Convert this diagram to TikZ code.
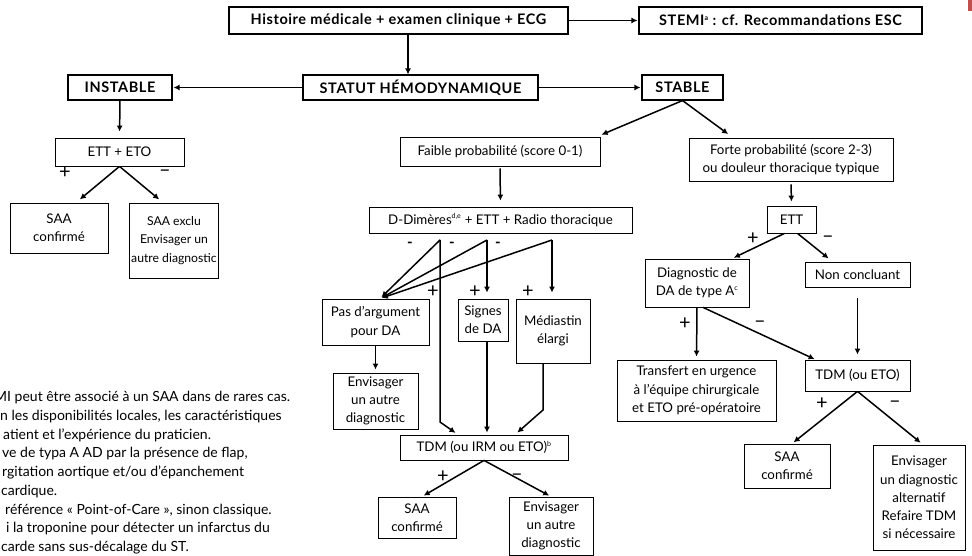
\documentclass[tikz,border=0pt]{standalone}
\usepackage{fontspec}
\setmainfont{Lato}
\newfontfamily\headfont{Lato}[LetterSpace=4]
\usetikzlibrary{arrows.meta}

\definecolor{tabred}{HTML}{C0504D}
\newcommand{\sups}[1]{\textsuperscript{\fontsize{7}{7}\selectfont #1}}

\begin{document}
\begin{tikzpicture}[x=1pt,y=-1pt,
  box/.style={draw,line width=0.8pt,align=center,inner sep=0pt,font=\fontsize{13.3}{18.3}\selectfont},
  head/.style={box,line width=1.1pt,font=\headfont\bfseries\fontsize{14.5}{16}\selectfont},
  arr/.style={-{Latex[length=6pt,width=6pt]},line width=1.5pt},
  sign/.style={inner sep=0pt,yshift=-3pt,font=\fontsize{20}{20}\selectfont},
  negmark/.style={inner sep=0pt,font=\bfseries\fontsize{15}{15}\selectfont}]
  \useasboundingbox (0,0) rectangle (972,556);
  \fill[tabred] (968,0) rectangle (972,11);

  % top row
  \node (hist) at (398.5,20.5) [head,minimum width=339pt,minimum height=27pt] {Histoire médicale + examen clinique + ECG};
  \node (stemi) at (780.5,20.5) [head,minimum width=283pt,minimum height=27pt] {STEMI\sups{a} : cf. Recommandations ESC};
  \node (statut) at (420.5,87.5) [head,minimum width=235pt,minimum height=25pt] {STATUT HÉMODYNAMIQUE};
  \node (instable) at (120,87.5) [head,minimum width=104pt,minimum height=25pt] {INSTABLE};
  \node (stable) at (682.5,87.5) [head,minimum width=81pt,minimum height=25pt] {STABLE};
  \coordinate (h1) at (408,34);
  \draw[arr,shorten >=1pt] (hist.east) -- (stemi.west);
  \draw[arr] (h1) -- (h1 |- statut.north);
  \draw[arr,shorten >=1pt] (statut.west) -- (instable.east);
  \draw[arr,shorten >=1pt] (statut.east) -- (stable.west);

  % unstable branch
  \node (ettEto) at (119.5,152) [box,minimum width=129pt,minimum height=28pt] {ETT + ETO};
  \node (saaL) at (59,228) [box,minimum width=98pt,minimum height=50pt] {SAA\\confirmé};
  \node (exclu) at (174,240.5) [box,minimum width=89pt,minimum height=75pt,font=\fontsize{12.2}{18.3}\selectfont] {SAA exclu\\Envisager un\\autre diagnostic};
  \draw[arr,shorten >=6pt] (instable.south) -- (ettEto.north);
  \draw[arr,shorten >=5pt] (ettEto.south) -- ([xshift=17pt]saaL.north);
  \draw[arr,shorten >=5pt] (ettEto.south) -- ([xshift=-11pt]exclu.north);
  \node (p1) at (65,170) [sign] {+};
  \node (m1) at (165,170) [sign] {–};

  % stable, low probability
  \node (faible) at (500,151.5) [box,minimum width=200pt,minimum height=29pt] {Faible probabilité (score 0-1)};
  \node (ddim) at (500.5,220) [box,minimum width=263pt,minimum height=26pt] {D-Dimères\sups{d,e} + ETT + Radio thoracique};
  \node (pas) at (375.5,322) [box,minimum width=107pt,minimum height=46pt] {Pas d’argument\\pour DA};
  \node (signes) at (483,320) [box,minimum width=50pt,minimum height=42pt] {Signes\\de DA};
  \node (medi) at (553,331) [box,minimum width=74pt,minimum height=64pt] {Médiastin\\élargi};
  \node (envA) at (375.5,401) [box,minimum width=85pt,minimum height=56pt] {Envisager\\un autre\\diagnostic};
  \node (tdmA) at (484,447.5) [box,minimum width=168pt,minimum height=25pt] {TDM (ou IRM ou ETO)\sups{b}};
  \node (saaM) at (417,517.5) [box,minimum width=78pt,minimum height=41pt] {SAA\\confirmé};
  \node (envM) at (551,526) [box,minimum width=84pt,minimum height=58pt] {Envisager\\un autre\\diagnostic};
  \draw[arr,shorten >=5pt] (stable.south) -- ([xshift=97pt]faible.north);
  \draw[arr,shorten <=2pt,shorten >=6pt] (faible.south) -- (ddim.north);
  \coordinate (a1) at (440,240);
  \coordinate (a2) at (487,240);
  \coordinate (a3) at (552,240);
  \coordinate (b1) at (440,422);
  \coordinate (b3) at (543,410);
  \draw[arr,shorten >=2pt] (a1) -- ([xshift=4.5pt]pas.north);
  \draw[arr,shorten >=2pt] (a2) -- ([xshift=4.5pt]pas.north);
  \draw[arr,shorten >=2pt] (a3) -- ([xshift=4.5pt]pas.north);
  \draw[arr,shorten >=6pt] (a2) -- (a2 |- signes.north);
  \draw[arr,shorten >=6pt] (a3) -- (a3 |- medi.north);
  \draw[arr,shorten >=3pt] (a1) -- (b1) -- ([xshift=-26pt]tdmA.north);
  \draw[arr,shorten >=2pt] (a2 |- signes.south) -- (a2 |- tdmA.north);
  \draw[arr,shorten >=3pt] (b3 |- medi.south) -- (b3) -- ([xshift=31pt]tdmA.north);
  \draw[arr,shorten >=3pt] (pas.south) -- (envA.north);
  \draw[arr,shorten >=2pt] (tdmA.south) -- ([xshift=5pt]saaM.north);
  \draw[arr,shorten >=2pt] (tdmA.south) -- (envM.north);
  \node (d1) at (410,245) [negmark] {-};
  \node (d2) at (452,245) [negmark] {-};
  \node (d3) at (498,245) [negmark] {-};
  \node (p2) at (433,289) [sign] {+};
  \node (p3) at (475,289) [sign] {+};
  \node (p4) at (528,289) [sign] {+};
  \node (p5) at (443,474) [sign] {+};
  \node (m5) at (517,474) [sign] {–};

  % stable, high probability
  \node (forte) at (791,159.5) [box,minimum width=204pt,minimum height=43pt] {Forte probabilité (score 2-3)\\ou douleur thoracique typique};
  \node (ettR) at (791.5,219.5) [box,minimum width=49pt,minimum height=27pt] {ETT};
  \node (diag) at (697,283) [box,minimum width=104pt,minimum height=48pt] {Diagnostic de\\DA de type A\sups{c}};
  \node (nonc) at (857.5,274.5) [box,minimum width=105pt,minimum height=25pt] {Non concluant};
  \node (transf) at (696.5,390.5) [box,minimum width=159pt,minimum height=61pt] {Transfert en urgence\\à l’équipe chirurgicale\\et ETO pré-opératoire};
  \node (tdmR) at (857.5,375.5) [box,minimum width=105pt,minimum height=31pt] {TDM (ou ETO)};
  \node (saaR) at (787,466) [box,minimum width=86pt,minimum height=44pt] {SAA\\confirmé};
  \node (envR) at (919,497.5) [box,minimum width=92pt,minimum height=105pt] {Envisager\\un diagnostic\\alternatif\\Refaire TDM\\si nécessaire};
  \draw[arr,shorten >=6pt] (stable.south) -- ([xshift=-58pt]forte.north);
  \draw[arr,shorten <=3pt,shorten >=4pt] (forte.south) -- (ettR.north);
  \draw[arr,shorten >=2pt] ([xshift=-7pt]ettR.south) -- ([xshift=35pt]diag.north);
  \draw[arr,shorten >=5pt] ([xshift=6pt]ettR.south) -- ([xshift=-25pt]nonc.north);
  \draw[arr,shorten >=3pt] (diag.south) -- (transf.north);
  \draw[arr,shorten >=1pt] ([xshift=6pt]diag.south) -- ([xshift=-42pt]tdmR.north);
  \draw[arr,shorten <=11pt,shorten >=5pt] (nonc.south) -- (tdmR.north);
  \draw[arr,shorten >=2pt] (tdmR.south) -- ([xshift=5pt]saaR.north);
  \draw[arr,shorten >=3pt] (tdmR.south) -- ([xshift=4pt]envR.north);
  \node (p6) at (753,236) [sign] {+};
  \node (m6) at (828,236) [sign] {–};
  \node (p7) at (685,321) [sign] {+};
  \node (m7) at (760,321) [sign] {–};
  \node (p8) at (822,401) [sign] {+};
  \node (m8) at (895,401) [sign] {–};

  % footnotes, cut at the left edge
  \node (notes) at (-6,391) [anchor=north west,inner sep=0pt,align=left,font=\fontsize{14}{18.75}\selectfont]
    {MI peut être associé à un SAA dans de rares cas.\\
     \hspace*{6pt}n les disponibilités locales, les caractéristiques\\
     \hspace*{9pt}atient et l’expérience du praticien.\\
     \hspace*{8pt}ve de typa A AD par la présence de flap,\\
     \hspace*{8pt}rgitation aortique et/ou d’épanchement\\
     \hspace*{7pt}cardique.\\
     \hspace*{11pt}référence « Point-of-Care », sinon classique.\\
     \hspace*{12pt}i la troponine pour détecter un infarctus du\\
     \hspace*{7pt}carde sans sus-décalage du ST.};
\end{tikzpicture}
\end{document}
